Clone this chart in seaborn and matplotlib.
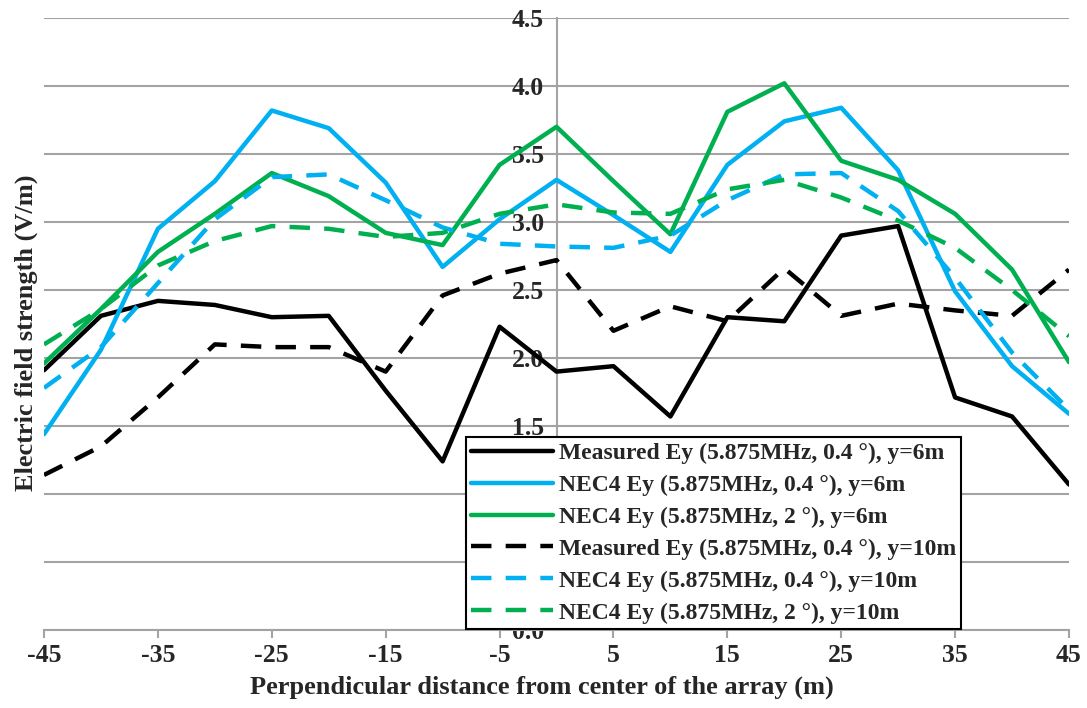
import numpy as np
import pandas as pd
import matplotlib
matplotlib.use("Agg")
import matplotlib.pyplot as plt
from matplotlib.ticker import FormatStrFormatter, MultipleLocator
import seaborn as sns

# Perpendicular distance from the array centre (m)
distance = [-45, -40, -35, -30, -25, -20, -15, -10, -5, 0,
            5, 10, 15, 20, 25, 30, 35, 40, 45]

# Electric field strength Ey (V/m)
measured_y6 = [1.91, 2.31, 2.42, 2.39, 2.30, 2.31, 1.76, 1.24, 2.23, 1.90,
               1.94, 1.57, 2.30, 2.27, 2.90, 2.97, 1.71, 1.57, 1.07]
nec4_04_y6 = [1.44, 2.06, 2.95, 3.30, 3.82, 3.69, 3.29, 2.67, 3.02, 3.31,
              3.05, 2.78, 3.42, 3.74, 3.84, 3.38, 2.49, 1.94, 1.59]
nec4_2_y6 = [1.96, 2.36, 2.78, 3.06, 3.36, 3.19, 2.92, 2.83, 3.42, 3.70,
             3.30, 2.91, 3.81, 4.02, 3.45, 3.31, 3.06, 2.65, 1.97]
measured_y10 = [1.14, 1.35, 1.71, 2.10, 2.08, 2.08, 1.90, 2.46, 2.62, 2.72,
                2.20, 2.38, 2.27, 2.66, 2.31, 2.40, 2.35, 2.31, 2.65]
nec4_04_y10 = [1.78, 2.08, 2.55, 3.02, 3.33, 3.35, 3.16, 2.96, 2.84, 2.82,
               2.81, 2.90, 3.16, 3.35, 3.36, 3.08, 2.59, 2.04, 1.62]
nec4_2_y10 = [2.10, 2.36, 2.68, 2.86, 2.97, 2.95, 2.89, 2.92, 3.06, 3.13,
              3.07, 3.06, 3.24, 3.31, 3.18, 3.01, 2.81, 2.50, 2.16]

series_names = [
    "Measured Ey (5.875MHz, 0.4 °), y=6m",
    "NEC4 Ey (5.875MHz, 0.4 °), y=6m",
    "NEC4 Ey (5.875MHz, 2 °), y=6m",
    "Measured Ey (5.875MHz, 0.4 °), y=10m",
    "NEC4 Ey (5.875MHz, 0.4 °), y=10m",
    "NEC4 Ey (5.875MHz, 2 °), y=10m",
]
series_values = [measured_y6, nec4_04_y6, nec4_2_y6,
                 measured_y10, nec4_04_y10, nec4_2_y10]
series_colors = ["#000000", "#00b0f0", "#00b050",
                 "#000000", "#00b0f0", "#00b050"]
series_dashes = ["", "", "", (4.6, 3.2), (4.6, 3.2), (4.6, 3.2)]

frames = [pd.DataFrame({"distance": distance, "Ey": vals, "series": name})
          for name, vals in zip(series_names, series_values)]
df = pd.concat(frames, ignore_index=True)

sns.set_theme(style="white")
plt.rcParams["font.family"] = ["Liberation Serif", "DejaVu Serif"]
plt.rcParams["font.weight"] = "bold"
plt.rcParams["axes.unicode_minus"] = False

fig = plt.figure(figsize=(10.87, 7.08), dpi=100)
ax = fig.add_axes([44 / 1087, 78 / 708, 1025 / 1087, 612 / 708])

grid_color = "#a3a3a3"

sns.lineplot(
    data=df, x="distance", y="Ey", hue="series", style="series",
    hue_order=series_names, style_order=series_names,
    palette=dict(zip(series_names, series_colors)),
    dashes=dict(zip(series_names, series_dashes)),
    linewidth=3.2, ax=ax, zorder=3, legend="full",
)

ax.set_xlim(-45, 45)
ax.set_ylim(0, 4.5)
ax.set_xticks(np.arange(-45, 46, 10))
ax.yaxis.set_major_locator(MultipleLocator(0.5))
ax.yaxis.set_major_formatter(FormatStrFormatter("%.1f"))

ax.grid(axis="y", color=grid_color, linewidth=1.5)
ax.grid(axis="x", visible=False)
ax.set_axisbelow(True)

for side in ("top", "right"):
    ax.spines[side].set_visible(False)
ax.spines["left"].set_position(("data", 0))
ax.spines["left"].set_color(grid_color)
ax.spines["left"].set_linewidth(1.5)
ax.spines["bottom"].set_color(grid_color)
ax.spines["bottom"].set_linewidth(1.5)

ax.tick_params(axis="y", length=0, pad=9, labelsize=18.5)
ax.tick_params(axis="x", length=6, width=1.5, color=grid_color,
               direction="out", pad=4, labelsize=18.5, bottom=True)
for lab in ax.get_xticklabels() + ax.get_yticklabels():
    lab.set_fontweight("bold")

ax.set_xlabel("Perpendicular distance from center of the array (m)",
              fontsize=19, fontweight="bold")
ax.set_ylabel("Electric field strength (V/m)", fontsize=19, fontweight="bold")
ax.xaxis.set_label_coords(0.486, -0.074)
ax.yaxis.set_label_coords(-0.006, 0.485)

leg = ax.legend(
    loc="lower left", bbox_to_anchor=(0.4117, 0.002), borderaxespad=0,
    frameon=True, fancybox=False, framealpha=1, edgecolor="black",
    prop={"family": ["Liberation Serif"], "weight": "bold", "size": 17},
    handlelength=3.45, handletextpad=0.25, labelspacing=0.44,
    borderpad=0.22,
)
leg.get_frame().set_linewidth(1.5)
leg.set_zorder(10)
for line in leg.get_lines():
    line.set_linewidth(3.2)

fig.savefig("out.png", dpi=100)
